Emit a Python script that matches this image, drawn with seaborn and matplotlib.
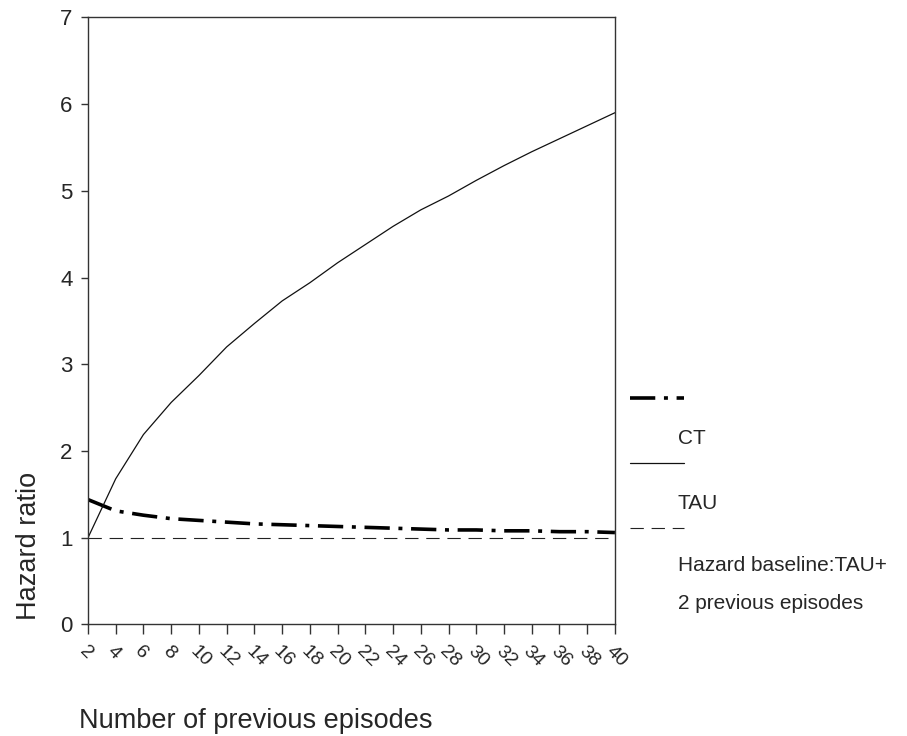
import matplotlib
matplotlib.use("Agg")
import matplotlib.pyplot as plt
import numpy as np
import pandas as pd
import seaborn as sns

# number of previous episodes (x axis)
episodes = [2, 4, 6, 8, 10, 12, 14, 16, 18, 20,
            22, 24, 26, 28, 30, 32, 34, 36, 38, 40]

# hazard ratios
hr_ct = [1.44, 1.31, 1.26, 1.22, 1.20, 1.18, 1.16, 1.15, 1.14, 1.13,
         1.12, 1.11, 1.10, 1.09, 1.09, 1.08, 1.08, 1.07, 1.07, 1.06]
hr_tau = [1.00, 1.68, 2.19, 2.56, 2.87, 3.20, 3.47, 3.73, 3.94, 4.17,
          4.38, 4.59, 4.78, 4.94, 5.12, 5.29, 5.45, 5.60, 5.75, 5.90]
baseline_hr = 1.0

y_ticks = [0, 1, 2, 3, 4, 5, 6, 7]

DASHDOT = (0, (7, 2.4, 1.1, 2.4))
DASHED = (0, (12, 7))


def main() -> None:
    sns.set_style("ticks")
    plt.rcParams["font.family"] = ["Liberation Sans", "DejaVu Sans"]

    data = pd.DataFrame({"episodes": episodes, "CT": hr_ct, "TAU": hr_tau})

    fig = plt.figure(figsize=(9.07, 7.36), dpi=100)
    ax = fig.add_axes([0.097, 0.1515, 0.581, 0.825])

    sns.lineplot(data=data, x="episodes", y="CT", ax=ax, color="black",
                 lw=2.6, linestyle=DASHDOT)
    sns.lineplot(data=data, x="episodes", y="TAU", ax=ax, color="#111111",
                 lw=0.9)
    ax.axhline(baseline_hr, color="#222222", lw=0.8, linestyle=DASHED)

    ax.set_xlim(2, 40)
    ax.set_ylim(0, 7)
    ax.set_xticks(episodes)
    ax.set_xticklabels([str(e) for e in episodes], rotation=-45,
                       ha="left", va="top", rotation_mode="anchor",
                       fontsize=14)
    ax.set_yticks(y_ticks)
    ax.set_yticklabels([str(t) for t in y_ticks], fontsize=16)
    ax.tick_params(axis="x", length=7, width=1, color="#333333", pad=6)
    ax.tick_params(axis="y", length=5, width=1, color="#333333", pad=6)
    for sp in ax.spines.values():
        sp.set_visible(True)
        sp.set_linewidth(1.0)
        sp.set_color("#333333")

    ax.set_xlabel("Number of previous episodes", fontsize=19.5)
    ax.set_ylabel("Hazard ratio", fontsize=19.5)
    ax.xaxis.set_label_coords(0.319, -0.137)
    ax.yaxis.set_label_coords(-0.087, 0.13)

    # hand-made legend to the right of the plot
    lx0, lx1, tx = 1.0285, 1.131, 1.1195
    fs = 15
    ax.plot([lx0, lx1], [0.373, 0.373], transform=ax.transAxes, clip_on=False,
            color="black", lw=2.6, linestyle=DASHDOT)
    ax.text(tx, 0.307, "CT", transform=ax.transAxes, fontsize=fs, va="center")
    ax.plot([lx0, lx1], [0.266, 0.266], transform=ax.transAxes, clip_on=False,
            color="#111111", lw=0.9)
    ax.text(tx, 0.200, "TAU", transform=ax.transAxes, fontsize=fs, va="center")
    ax.plot([lx0, lx1], [0.159, 0.159], transform=ax.transAxes, clip_on=False,
            color="#222222", lw=0.8, linestyle=DASHED)
    ax.text(tx, 0.0964, "Hazard baseline:TAU+", transform=ax.transAxes,
            fontsize=fs, va="center")
    ax.text(tx, 0.0338, "2 previous episodes", transform=ax.transAxes,
            fontsize=fs, va="center")

    fig.savefig("out.png", dpi=100)


if __name__ == "__main__":
    main()
